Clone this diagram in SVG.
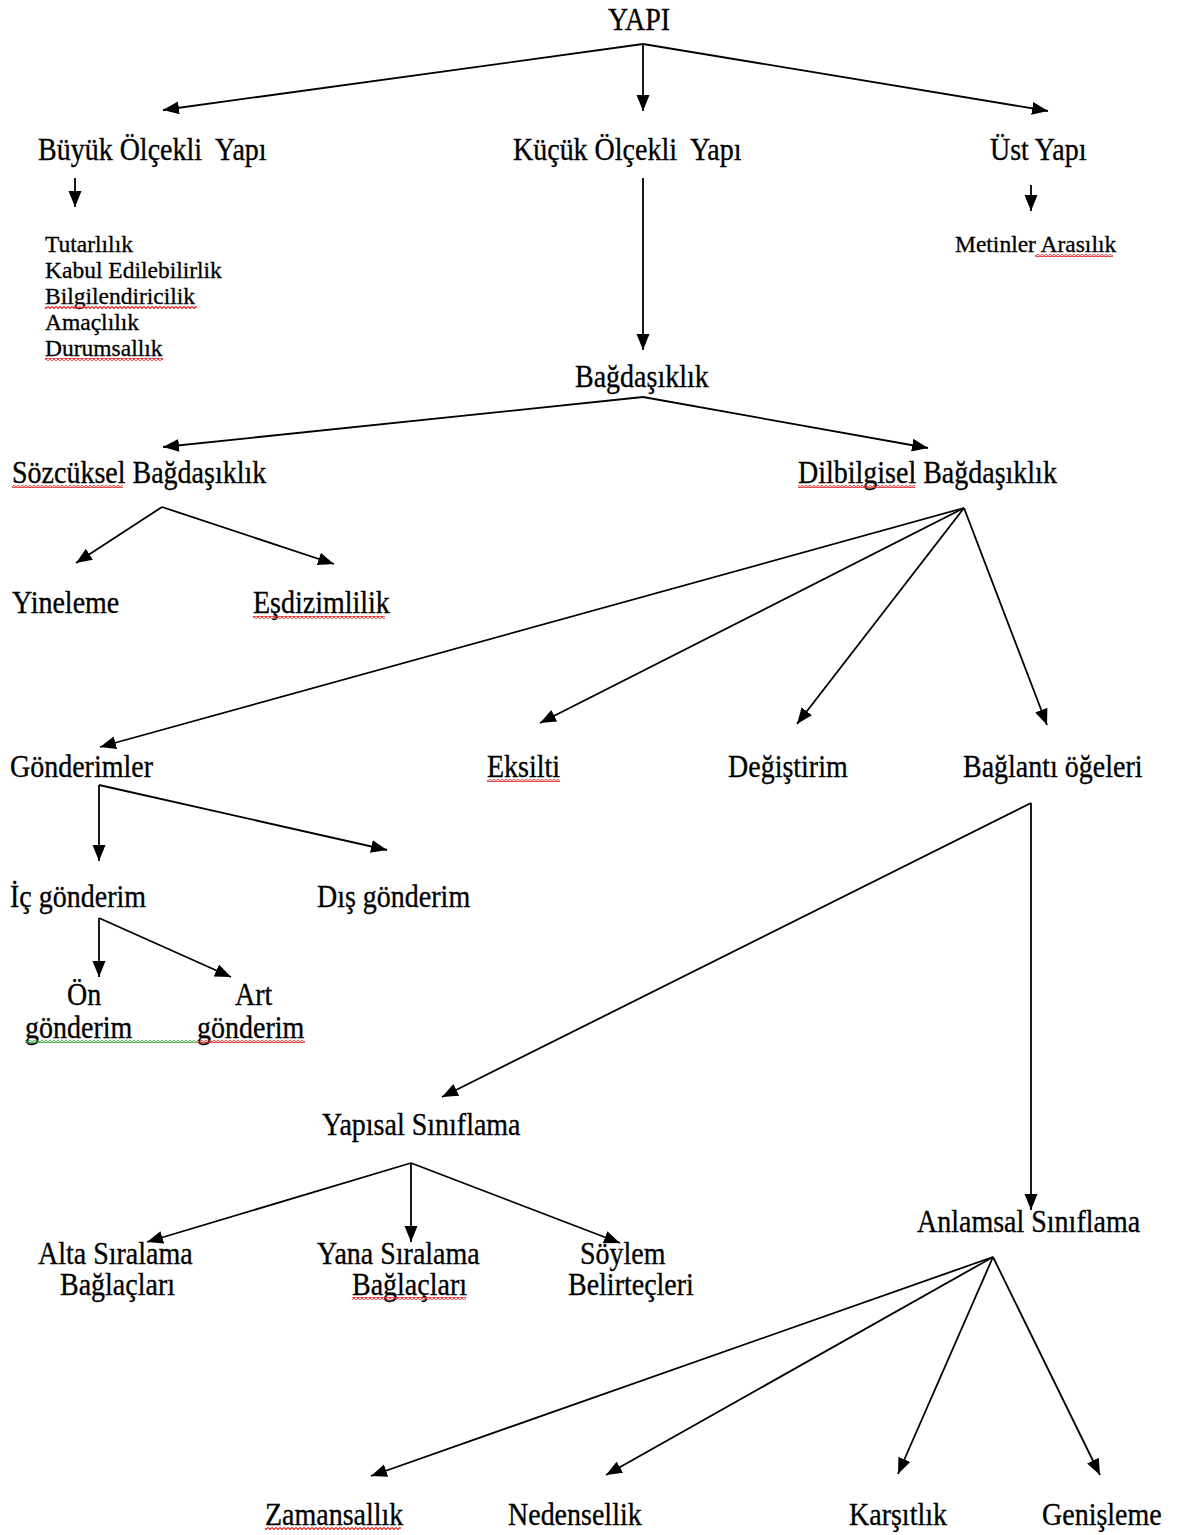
<svg xmlns="http://www.w3.org/2000/svg" width="1180" height="1535" viewBox="0 0 1180 1535">
<style>
text{font-family:"Liberation Serif","Times New Roman",serif;fill:#000;stroke:#000;stroke-width:0.3}
.m{font-size:28px}
.s{font-size:23.5px}
.c{stroke:#000;stroke-width:1.8;fill:none;marker-end:url(#ah)}
</style>
<defs>
<marker id="ah" markerUnits="userSpaceOnUse" markerWidth="18" markerHeight="14" refX="16" refY="6.5" orient="auto" viewBox="0 0 18 14">
<path d="M0,0 L16,6.5 L0,13 z" fill="#000"/>
</marker>
<pattern id="sqR" width="4" height="3" patternUnits="userSpaceOnUse">
<path d="M0,0.5 L2,2.5 L4,0.5" stroke="#e8282a" stroke-width="1.2" fill="none"/>
</pattern>
<pattern id="sqG" width="4" height="3" patternUnits="userSpaceOnUse">
<path d="M0,0.5 L2,2.5 L4,0.5" stroke="#3aa63a" stroke-width="1.2" fill="none"/>
</pattern>
</defs>
<rect width="1180" height="1535" fill="#fff"/>

<g id="connectors">
<line class="c" x1="643" y1="44" x2="163" y2="110"/>
<line class="c" x1="643" y1="44" x2="643" y2="111"/>
<line class="c" x1="643" y1="44" x2="1048" y2="111"/>
<line class="c" x1="75" y1="178" x2="75" y2="207"/>
<line class="c" x1="643" y1="178" x2="643" y2="350"/>
<line class="c" x1="1031" y1="185" x2="1031" y2="211"/>
<line class="c" x1="643" y1="397" x2="163" y2="447"/>
<line class="c" x1="643" y1="397" x2="928" y2="448"/>
<line class="c" x1="162" y1="507" x2="76" y2="563"/>
<line class="c" x1="162" y1="507" x2="334" y2="564"/>
<line class="c" x1="964" y1="508" x2="100" y2="747"/>
<line class="c" x1="964" y1="508" x2="540" y2="723"/>
<line class="c" x1="964" y1="508" x2="797" y2="724"/>
<line class="c" x1="964" y1="508" x2="1047" y2="725"/>
<line class="c" x1="99" y1="785" x2="99" y2="861"/>
<line class="c" x1="99" y1="785" x2="387" y2="850"/>
<line class="c" x1="99" y1="918" x2="99" y2="977"/>
<line class="c" x1="99" y1="918" x2="231" y2="977"/>
<line class="c" x1="1031" y1="803" x2="442" y2="1097"/>
<line class="c" x1="1031" y1="803" x2="1031" y2="1210"/>
<line class="c" x1="411" y1="1163" x2="147" y2="1242"/>
<line class="c" x1="411" y1="1163" x2="411" y2="1242"/>
<line class="c" x1="411" y1="1163" x2="620" y2="1243"/>
<line class="c" x1="993" y1="1257" x2="371" y2="1476"/>
<line class="c" x1="993" y1="1257" x2="606" y2="1475"/>
<line class="c" x1="993" y1="1257" x2="898" y2="1474"/>
<line class="c" x1="993" y1="1257" x2="1100" y2="1475"/>
</g>

<g id="n-yapi"><text class="m" x="639" y="30" text-anchor="middle" transform="matrix(1 0 0 1.12 0 -3.6)">YAPI</text></g>
<g id="n-buyuk"><text class="m" x="38" y="160" transform="matrix(1 0 0 1.12 0 -19.2)">Büyük Ölçekli&#160; Yapı</text></g>
<g id="n-kucuk"><text class="m" x="513" y="160" transform="matrix(1 0 0 1.12 0 -19.2)">Küçük Ölçekli&#160; Yapı</text></g>
<g id="n-ust"><text class="m" x="990" y="160" transform="matrix(1 0 0 1.12 0 -19.2)">Üst Yapı</text></g>
<g id="n-buyuk-list">
<text class="s" x="45" y="252">Tutarlılık</text>
<text class="s" x="45" y="278">Kabul Edilebilirlik</text>
<text class="s" x="45" y="304">Bilgilendiricilik</text>
<text class="s" x="45" y="330">Amaçlılık</text>
<text class="s" x="45" y="356">Durumsallık</text>
<rect x="45" y="306" width="152" height="3" fill="url(#sqR)"/>
<rect x="45" y="358" width="118" height="3" fill="url(#sqR)"/>
</g>
<g id="n-metinler">
<text class="s" x="955" y="252">Metinler Arasılık</text>
<rect x="1035" y="254" width="78" height="3" fill="url(#sqR)"/>
</g>
<g id="n-bagdasiklik"><text class="m" x="575" y="387" transform="matrix(1 0 0 1.12 0 -46.44)">Bağdaşıklık</text></g>
<g id="n-sozcuksel">
<text class="m" x="12" y="483" transform="matrix(1 0 0 1.12 0 -57.96)">Sözcüksel Bağdaşıklık</text>
<rect x="12" y="485" width="111" height="3" fill="url(#sqR)"/>
</g>
<g id="n-dilbilgisel">
<text class="m" x="798" y="483" transform="matrix(1 0 0 1.12 0 -57.96)">Dilbilgisel Bağdaşıklık</text>
<rect x="798" y="485" width="117" height="3" fill="url(#sqR)"/>
</g>
<g id="n-yineleme"><text class="m" x="12" y="613" transform="matrix(1 0 0 1.12 0 -73.56)">Yineleme</text></g>
<g id="n-esdizimlilik">
<text class="m" x="253" y="613" transform="matrix(1 0 0 1.12 0 -73.56)">Eşdizimlilik</text>
<rect x="253" y="616" width="132" height="3" fill="url(#sqR)"/>
</g>
<g id="n-gonderimler"><text class="m" x="10" y="777" transform="matrix(1 0 0 1.12 0 -93.24)">Gönderimler</text></g>
<g id="n-eksilti">
<text class="m" x="487" y="777" transform="matrix(1 0 0 1.12 0 -93.24)">Eksilti</text>
<rect x="487" y="779" width="73" height="3" fill="url(#sqR)"/>
</g>
<g id="n-degistirim"><text class="m" x="728" y="777" transform="matrix(1 0 0 1.12 0 -93.24)">Değiştirim</text></g>
<g id="n-baglanti"><text class="m" x="963" y="777" transform="matrix(1 0 0 1.12 0 -93.24)">Bağlantı öğeleri</text></g>
<g id="n-ic"><text class="m" x="10" y="907" transform="matrix(1 0 0 1.12 0 -108.84)">İç gönderim</text></g>
<g id="n-dis"><text class="m" x="317" y="907" transform="matrix(1 0 0 1.12 0 -108.84)">Dış gönderim</text></g>
<g id="n-on">
<text class="m" x="67" y="1005" transform="matrix(1 0 0 1.12 0 -120.6)">Ön</text>
<text class="m" x="25" y="1038" transform="matrix(1 0 0 1.12 0 -124.56)">gönderim</text>
<rect x="25" y="1040" width="172" height="3" fill="url(#sqG)"/>
</g>
<g id="n-art">
<text class="m" x="235" y="1005" transform="matrix(1 0 0 1.12 0 -120.6)">Art</text>
<text class="m" x="197" y="1038" transform="matrix(1 0 0 1.12 0 -124.56)">gönderim</text>
<rect x="197" y="1040" width="108" height="3" fill="url(#sqR)"/>
</g>
<g id="n-yapisal"><text class="m" x="322" y="1135" transform="matrix(1 0 0 1.12 0 -136.2)">Yapısal Sınıflama</text></g>
<g id="n-anlamsal"><text class="m" x="917" y="1232" transform="matrix(1 0 0 1.12 0 -147.84)">Anlamsal Sınıflama</text></g>
<g id="n-alta">
<text class="m" x="38" y="1264" transform="matrix(1 0 0 1.12 0 -151.68)">Alta Sıralama</text>
<text class="m" x="60" y="1295" transform="matrix(1 0 0 1.12 0 -155.4)">Bağlaçları</text>
</g>
<g id="n-yana">
<text class="m" x="317" y="1264" transform="matrix(1 0 0 1.12 0 -151.68)">Yana Sıralama</text>
<text class="m" x="352" y="1295" transform="matrix(1 0 0 1.12 0 -155.4)">Bağlaçları</text>
<rect x="352" y="1297" width="114" height="3" fill="url(#sqR)"/>
</g>
<g id="n-soylem">
<text class="m" x="580" y="1264" transform="matrix(1 0 0 1.12 0 -151.68)">Söylem</text>
<text class="m" x="568" y="1295" transform="matrix(1 0 0 1.12 0 -155.4)">Belirteçleri</text>
</g>
<g id="n-zamansallik">
<text class="m" x="265" y="1525" transform="matrix(1 0 0 1.12 0 -183)">Zamansallık</text>
<rect x="265" y="1527" width="136" height="3" fill="url(#sqR)"/>
</g>
<g id="n-nedensellik"><text class="m" x="508" y="1525" transform="matrix(1 0 0 1.12 0 -183)">Nedensellik</text></g>
<g id="n-karsitlik"><text class="m" x="849" y="1525" transform="matrix(1 0 0 1.12 0 -183)">Karşıtlık</text></g>
<g id="n-genisleme"><text class="m" x="1042" y="1525" transform="matrix(1 0 0 1.12 0 -183)">Genişleme</text></g>
</svg>
